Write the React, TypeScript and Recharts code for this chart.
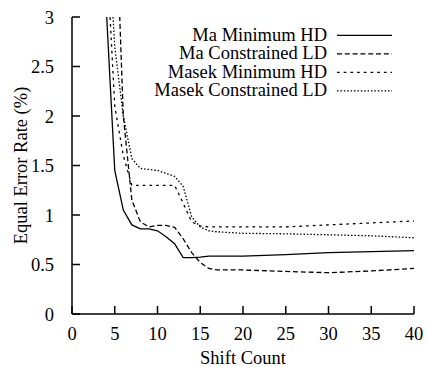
import React from 'react';
import { LineChart, Line, XAxis, YAxis, Legend } from 'recharts';

const shiftCounts = [4, 5, 6, 7, 8, 9, 10, 11, 12, 13, 14, 15, 16, 17, 18, 20, 25, 30, 35, 40];
const maMinimumHD = [3.1, 1.45, 1.05, 0.9, 0.86, 0.86, 0.84, 0.78, 0.71, 0.57, 0.57, 0.575, 0.585, 0.585, 0.585, 0.585, 0.6, 0.62, 0.63, 0.64];
const maConstrainedLD = [6.0, 4.4, 2.0, 1.15, 0.93, 0.88, 0.895, 0.895, 0.875, 0.76, 0.62, 0.52, 0.46, 0.445, 0.445, 0.445, 0.43, 0.417, 0.435, 0.46];
const masekMinimumHD = [3.74, 2.1, 1.6, 1.3, 1.3, 1.3, 1.3, 1.3, 1.3, 1.12, 0.93, 0.89, 0.88, 0.88, 0.88, 0.88, 0.88, 0.9, 0.92, 0.94];
const masekConstrainedLD = [4.2, 2.7, 2.0, 1.57, 1.47, 1.46, 1.45, 1.42, 1.39, 1.29, 0.98, 0.88, 0.84, 0.83, 0.825, 0.815, 0.81, 0.8, 0.79, 0.77];

const seriesNames = ['Ma Minimum HD', 'Ma Constrained LD', 'Masek Minimum HD', 'Masek Constrained LD'];
const xTicks = [0, 5, 10, 15, 20, 25, 30, 35, 40];
const yTicks = [0, 0.5, 1, 1.5, 2, 2.5, 3];

const data = shiftCounts.map((s, i) => ({
  shift: s,
  maMin: maMinimumHD[i],
  maCon: maConstrainedLD[i],
  masekMin: masekMinimumHD[i],
  masekCon: masekConstrainedLD[i],
}));

const FONT = "'Liberation Serif', 'DejaVu Serif', serif";
const FS = 18.5;

const seriesStyle = [
  { key: 'maMin', dash: undefined as string | undefined },
  { key: 'maCon', dash: '5 2.8' },
  { key: 'masekMin', dash: '2.7 4' },
  { key: 'masekCon', dash: '1.5 1.9' },
];

const renderLegend = () => (
  <svg width={427} height={110} style={{ display: 'block', fontFamily: FONT }}>
    {seriesNames.map((name, i) => {
      const cy = 35.3 + i * 18.5;
      return (
        <g key={name}>
          <text x={327} y={cy + 5.5} textAnchor="end" fontSize={FS} fill="#000" style={{ fontFamily: FONT }}>
            {name}
          </text>
          <line x1={337} x2={392} y1={cy} y2={cy} stroke="#000" strokeWidth={1.3} strokeDasharray={seriesStyle[i].dash} />
        </g>
      );
    })}
  </svg>
);

export default function App() {
  return (
    <div style={{ position: 'absolute', left: 0, top: 0, width: 427, height: 367, background: '#fff', fontFamily: FONT }}>
      <LineChart
        width={427}
        height={367}
        data={data}
        margin={{ top: 17, right: 13, left: 0, bottom: 0 }}
        style={{ fontFamily: FONT }}
      >
        <XAxis
          dataKey="shift"
          type="number"
          domain={[0, 40]}
          ticks={xTicks}
          height={53}
          tickSize={-8}
          tickMargin={21}
          stroke="#000"
          strokeWidth={1.5}
          tick={{ fill: '#000', fontSize: FS, style: { fontFamily: FONT } }}
          label={{ value: 'Shift Count', position: 'insideBottom', offset: 3, fill: '#000', fontSize: FS, style: { fontFamily: FONT } }}
        />
        <XAxis
          xAxisId="top"
          dataKey="shift"
          type="number"
          orientation="top"
          domain={[0, 40]}
          ticks={xTicks}
          height={0}
          tickSize={-7}
          stroke="#000"
          strokeWidth={1.5}
          tickFormatter={() => ''}
        />
        <YAxis
          type="number"
          domain={[0, 3]}
          ticks={yTicks}
          allowDataOverflow
          width={72}
          tickSize={-8}
          tickMargin={26}
          stroke="#000"
          strokeWidth={1.5}
          tick={{ fill: '#000', fontSize: FS, style: { fontFamily: FONT } }}
          label={{
            value: 'Equal Error Rate (%)',
            angle: -90,
            position: 'insideLeft',
            offset: 20,
            fill: '#000',
            fontSize: FS,
            style: { textAnchor: 'middle', fontFamily: FONT },
          }}
        />
        <YAxis
          yAxisId="right"
          orientation="right"
          type="number"
          domain={[0, 3]}
          ticks={yTicks}
          allowDataOverflow
          width={0}
          tickSize={-7}
          stroke="#000"
          strokeWidth={1.5}
          tickFormatter={() => ''}
        />
        <Legend
          layout="vertical"
          align="center"
          verticalAlign="middle"
          content={renderLegend}
          wrapperStyle={{ position: 'absolute', left: 0, top: 0, width: 427, height: 110, pointerEvents: 'none' }}
        />
        {seriesStyle.map((s, i) => (
          <Line
            key={s.key}
            dataKey={s.key}
            name={seriesNames[i]}
            type="linear"
            stroke="#000"
            strokeWidth={1.3}
            strokeDasharray={s.dash}
            dot={false}
            activeDot={false}
            isAnimationActive={false}
          />
        ))}
      </LineChart>
    </div>
  );
}
